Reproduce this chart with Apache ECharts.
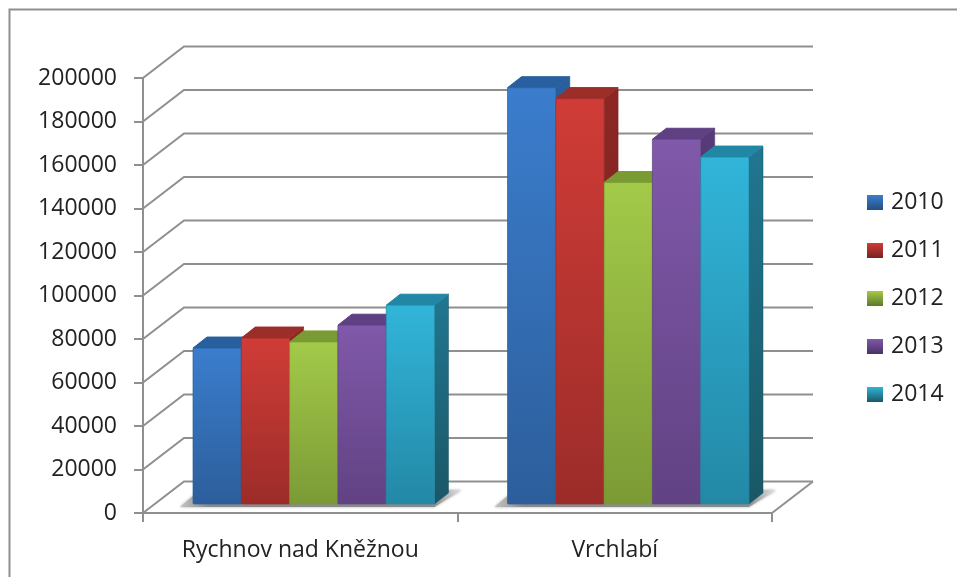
<!DOCTYPE html>
<html>
<head>
<meta charset="utf-8">
<style>
  html, body { margin: 0; padding: 0; background: #fff; }
  #chart { width: 957px; height: 577px; }
</style>
<script src="https://cdn.jsdelivr.net/npm/echarts@6/dist/echarts.min.js"></script>
</head>
<body>
<div id="chart"></div>
<script>
const categories = ['Rychnov nad Kněžnou', 'Vrchlabí']
const years = ['2010', '2011', '2012', '2013', '2014']
const values2010 = [71700, 191400]
const values2011 = [76300, 186400]
const values2012 = [74500, 147800]
const values2013 = [82200, 167700]
const values2014 = [91400, 159500]
const yTicks = [0, 20000, 40000, 60000, 80000, 100000, 120000, 140000, 160000, 180000, 200000]

const seriesValues = [values2010, values2011, values2012, values2013, values2014]

// top of front, bottom of front, side top, side bottom, roof
const colors = [
  ['#3b7dcd', '#2c5e9b', '#2a5f9f', '#234f83', '#285f9e'],
  ['#d03c37', '#9c2c29', '#8c2724', '#772220', '#9c2e29'],
  ['#a3ca49', '#7b9a36', '#6f8c30', '#5f7829', '#7a9a34'],
  ['#8059aa', '#614283', '#573a78', '#4a3166', '#5e4083'],
  ['#31b5d9', '#2388a6', '#217690', '#1a5766', '#2187a5']
]

const gridColor = '#8f8f8f'
const wallDx = 41
const wallDy = 31.5
const barNearDx = 13.5
const barNearDy = 9
const barDepthDx = 14
const barDepthDy = 11
const barWidth = 48.3

function vGrad(top, bottom) {
  return {
    type: 'linear', x: 0, y: 0, x2: 0, y2: 1,
    colorStops: [{ offset: 0, color: top }, { offset: 1, color: bottom }]
  }
}

function renderWall(params, api) {
  const grid = params.coordSys
  const y = api.coord([0, api.value(0)])[1]
  const left = grid.x
  const right = grid.x + grid.width
  const children = [{
    type: 'polyline',
    shape: { points: [[left, y], [left + wallDx, y - wallDy], [right + wallDx, y - wallDy]] },
    style: { fill: null, stroke: gridColor, lineWidth: 2 }
  }]
  // floor has its right edge too
  if (api.value(0) === 0) {
    children.push({
      type: 'line',
      shape: { x1: right, y1: y, x2: right + wallDx, y2: y - wallDy },
      style: { stroke: gridColor, lineWidth: 2 }
    })
  }
  return { type: 'group', children }
}

function renderShadow(params, api) {
  const c = api.coord([api.value(0), 0])
  const groupLeft = c[0] + barNearDx - 2.5 * barWidth
  const groupRight = c[0] + barNearDx + 2.5 * barWidth
  const y = c[1] - barNearDy
  return {
    type: 'polygon',
    shape: { points: [[groupLeft - 13, y + 3], [groupRight, y + 3], [groupRight + 27, y - 14], [groupRight, y - 14], [groupLeft, y - 8]] },
    style: {
      fill: {
        type: 'linear', x: 0, y: 0, x2: 1, y2: 0,
        colorStops: [
          { offset: 0, color: '#c4c4c4' },
          { offset: 0.1, color: '#8a8a8a' },
          { offset: 0.9, color: '#8a8a8a' },
          { offset: 1, color: '#e4e4e4' }
        ]
      },
      shadowBlur: 3,
      shadowColor: 'rgba(120,120,120,0.6)'
    }
  }
}

function barRenderer(index) {
  return function (params, api) {
    const cat = api.value(0)
    const c = api.coord([cat, api.value(1)])
    const base = api.coord([cat, 0])
    const x0 = c[0] + barNearDx + (index - 2.5) * barWidth
    const x1 = x0 + barWidth
    const yTop = c[1] - barNearDy
    const yBottom = base[1] - barNearDy
    const col = colors[index]
    return {
      type: 'group',
      children: [
        {
          type: 'polygon',
          shape: { points: [[x1, yTop], [x1 + barDepthDx, yTop - barDepthDy], [x1 + barDepthDx, yBottom - barDepthDy], [x1, yBottom]] },
          style: { fill: vGrad(col[2], col[3]), stroke: col[3], lineWidth: 0.5 }
        },
        {
          type: 'polygon',
          shape: { points: [[x0, yTop], [x0 + barDepthDx, yTop - barDepthDy], [x1 + barDepthDx, yTop - barDepthDy], [x1, yTop]] },
          style: { fill: col[4], stroke: col[4], lineWidth: 1, lineJoin: 'round' }
        },
        {
          type: 'rect',
          shape: { x: x0, y: yTop, width: barWidth, height: yBottom - yTop, r: 1 },
          style: { fill: vGrad(col[0], col[1]), stroke: col[1], lineWidth: 1, strokeOpacity: 0.7 }
        }
      ]
    }
  }
}

const series = [
  {
    type: 'custom',
    name: 'walls',
    silent: true,
    z: 1,
    renderItem: renderWall,
    encode: { y: 0 },
    data: yTicks.map(v => [v])
  },
  {
    type: 'custom',
    name: 'shadow',
    silent: true,
    z: 2,
    renderItem: renderShadow,
    data: categories.map((c, i) => [i])
  }
]

years.forEach((year, i) => {
  series.push({
    type: 'custom',
    name: year,
    z: 3 + i,
    renderItem: barRenderer(i),
    itemStyle: { color: colors[i][1] },
    encode: { x: 0, y: 1 },
    data: seriesValues[i].map((v, c) => [c, v])
  })
})

const axisLine = { show: true, lineStyle: { color: gridColor, width: 2 } }
const textFont = { fontFamily: 'Open Sans', color: '#222', fontSize: 23 }

const chart = echarts.init(document.getElementById('chart'))
chart.setOption({
  animation: false,
  backgroundColor: '#fff',
  grid: { left: 143, right: 185, top: 78, bottom: 64 },
  graphic: [{
    type: 'rect',
    silent: true,
    shape: { x: 9.5, y: 9.5, width: 1000, height: 1000 },
    style: { fill: null, stroke: gridColor, lineWidth: 2 }
  }],
  legend: {
    orient: 'vertical',
    left: 862,
    top: 186,
    itemWidth: 16,
    itemHeight: 15,
    itemGap: 25,
    icon: 'rect',
    data: years.map((y, i) => ({
      name: y,
      itemStyle: { color: vGrad(colors[i][0], colors[i][3]) }
    })),
    textStyle: { ...textFont, padding: [0, 0, 0, 3] }
  },
  xAxis: {
    type: 'category',
    data: categories,
    axisLine,
    axisTick: { show: true, length: 9, lineStyle: { color: gridColor, width: 2 } },
    axisLabel: { ...textFont, margin: 26 }
  },
  yAxis: {
    type: 'value',
    min: 0,
    max: 200000,
    interval: 20000,
    axisLine,
    axisTick: { show: true, length: 9, lineStyle: { color: gridColor, width: 2 } },
    axisLabel: { ...textFont, margin: 26, padding: [5, 0, 0, 0], formatter: v => String(v) },
    splitLine: { show: false }
  },
  series
})
</script>
</body>
</html>
